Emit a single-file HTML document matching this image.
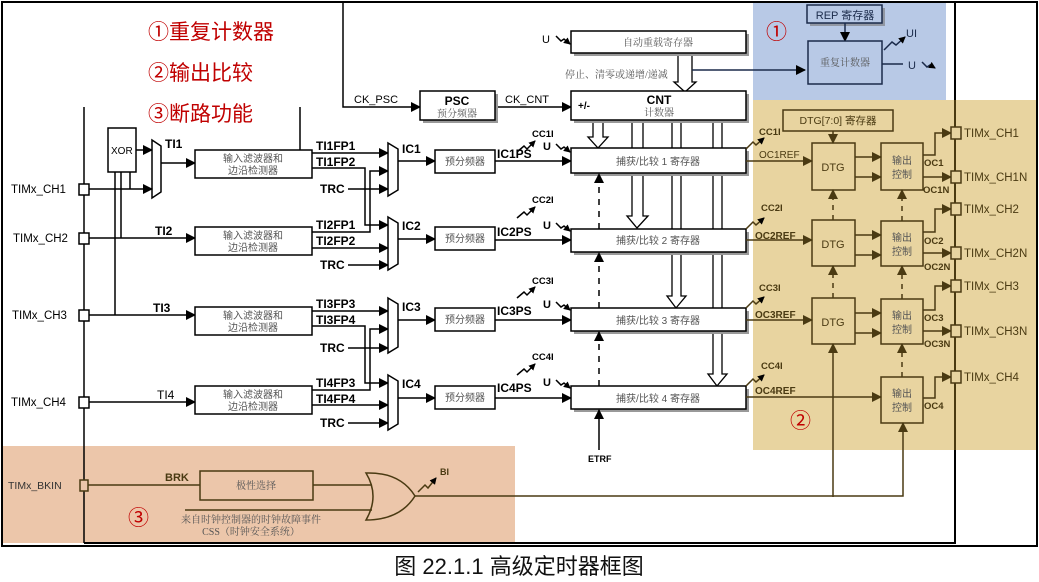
<!DOCTYPE html>
<html><head><meta charset="utf-8"><style>
html,body{margin:0;padding:0;background:#fff;}
svg{display:block;}
text{font-family:"Liberation Sans","Noto Sans CJK SC",sans-serif;}
.b{font-weight:bold;font-size:12px;}
.cj{font-family:"Liberation Serif","Noto Serif CJK SC",serif;font-size:10px;fill:#555;}
.red{font-family:"Liberation Sans","Noto Sans CJK SC",sans-serif;font-size:21px;fill:#c00000;}
.pin{font-size:11.5px;}
</style></head><body>
<svg width="1039" height="582" viewBox="0 0 1039 582" xmlns="http://www.w3.org/2000/svg">
<defs>
<marker id="a" markerWidth="10" markerHeight="10" refX="9" refY="5" orient="auto" markerUnits="userSpaceOnUse"><path d="M0,0 L10,5 L0,10z" fill="#000"/></marker>
<marker id="s" markerWidth="7" markerHeight="7" refX="6" refY="3.5" orient="auto" markerUnits="userSpaceOnUse"><path d="M0,0 L7,3.5 L0,7z" fill="#000"/></marker>
<marker id="br" markerWidth="10" markerHeight="10" refX="9" refY="5" orient="auto" markerUnits="userSpaceOnUse"><path d="M0,0 L10,5 L0,10z" fill="#4a3a12"/></marker>
</defs>
<rect x="753" y="2" width="193" height="98" fill="#b8c9e6"/>
<rect x="753" y="100" width="284" height="350" fill="#e8d4a0"/>
<rect x="2" y="446" width="513" height="97" fill="#ecc6aa"/>
<rect x="2" y="2" width="1035" height="544" fill="none" stroke="#000" stroke-width="2"/>
<line x1="955" y1="2" x2="955" y2="544" stroke="#000" stroke-width="2"/>
<line x1="84" y1="543" x2="955" y2="543" stroke="#000" stroke-width="2"/>
<line x1="955" y1="100" x2="955" y2="450" stroke="#4a3a12" stroke-width="2"/>

<text class="red" x="148" y="39">①重复计数器</text>
<text class="red" x="148" y="80">②输出比较</text>
<text class="red" x="148" y="121">③断路功能</text>
<text class="red" x="766" y="39" font-size="22">①</text>
<text class="red" x="790" y="428" font-size="22">②</text>
<text class="red" x="128" y="525" font-size="20">③</text>

<g stroke="#000" stroke-width="1.5" fill="none">
<line x1="84" y1="107" x2="84" y2="543"/>
<line x1="300" y1="107" x2="300" y2="150"/>
<polyline points="343,2 343,107 420,107" marker-end="url(#a)"/>
<line x1="495" y1="107" x2="571" y2="107" marker-end="url(#a)"/>
<rect x="108" y="128" width="28" height="44" fill="#fff"/>
<line x1="136" y1="150" x2="152" y2="150" marker-end="url(#a)"/>
<polygon points="152,140 161,146 161,192 152,198" fill="#fff"/>
<line x1="89" y1="189" x2="152" y2="189" marker-end="url(#a)"/>
<line x1="130" y1="172" x2="130" y2="189"/>
<line x1="121" y1="172" x2="121" y2="238"/>
<line x1="115" y1="172" x2="115" y2="315"/>
<line x1="161" y1="163" x2="195" y2="163" marker-end="url(#a)"/>
<line x1="89" y1="238" x2="195" y2="238" marker-end="url(#a)"/>
<line x1="89" y1="315" x2="195" y2="315" marker-end="url(#a)"/>
<line x1="89" y1="402" x2="195" y2="402" marker-end="url(#a)"/>
<rect x="195" y="150" width="117" height="28" fill="#fff"/>
<rect x="195" y="227" width="117" height="28" fill="#fff"/>
<rect x="195" y="307" width="117" height="28" fill="#fff"/>
<rect x="195" y="386" width="117" height="28" fill="#fff"/>
<line x1="312" y1="153" x2="388" y2="153" marker-end="url(#a)"/>
<polyline points="312,168 365,168 365,225 388,225" marker-end="url(#a)"/>
<polyline points="312,232 370,232 370,171 388,171" marker-end="url(#a)"/>
<line x1="312" y1="248" x2="388" y2="248" marker-end="url(#a)"/>
<line x1="348" y1="189" x2="388" y2="189" marker-end="url(#a)"/>
<line x1="348" y1="265" x2="388" y2="265" marker-end="url(#a)"/>
<line x1="312" y1="311" x2="388" y2="311" marker-end="url(#a)"/>
<polyline points="312,326 365,326 365,383 388,383" marker-end="url(#a)"/>
<polyline points="312,390 370,390 370,329 388,329" marker-end="url(#a)"/>
<line x1="312" y1="405" x2="388" y2="405" marker-end="url(#a)"/>
<line x1="348" y1="348" x2="388" y2="348" marker-end="url(#a)"/>
<line x1="348" y1="423" x2="388" y2="423" marker-end="url(#a)"/>
<polygon points="388,143 398,149 398,190 388,196" fill="#fff"/>
<polygon points="388,217 398,223 398,264 388,270" fill="#fff"/>
<polygon points="388,298 398,304 398,347 388,353" fill="#fff"/>
<polygon points="388,375 398,381 398,424 388,430" fill="#fff"/>
<line x1="398" y1="161" x2="435" y2="161" marker-end="url(#a)"/>
<line x1="398" y1="239" x2="435" y2="239" marker-end="url(#a)"/>
<line x1="398" y1="320" x2="435" y2="320" marker-end="url(#a)"/>
<line x1="398" y1="398" x2="435" y2="398" marker-end="url(#a)"/>
<rect x="435" y="150" width="60" height="23" fill="#fff"/>
<rect x="435" y="227" width="60" height="23" fill="#fff"/>
<rect x="435" y="308" width="60" height="23" fill="#fff"/>
<rect x="435" y="386" width="60" height="23" fill="#fff"/>
<line x1="495" y1="161" x2="571" y2="161" marker-end="url(#a)"/>
<line x1="495" y1="240" x2="571" y2="240" marker-end="url(#a)"/>
<line x1="495" y1="320" x2="571" y2="320" marker-end="url(#a)"/>
<line x1="495" y1="398" x2="571" y2="398" marker-end="url(#a)"/>
<polyline points="517,152 524,146 527,149 535,141" marker-end="url(#s)"/>
<polyline points="517,218 524,212 527,215 535,207" marker-end="url(#s)"/>
<polyline points="517,298 524,292 527,295 535,287" marker-end="url(#s)"/>
<polyline points="517,375 524,369 527,372 535,364" marker-end="url(#s)"/>
<polyline points="556,144 561,149 564,147 570,152" marker-end="url(#s)"/>
<polyline points="556,223 561,228 564,226 570,231" marker-end="url(#s)"/>
<polyline points="556,302 561,307 564,305 570,310" marker-end="url(#s)"/>
<polyline points="556,380 561,385 564,383 570,388" marker-end="url(#s)"/>
<polyline points="556,36 561,41 564,39 570,44" marker-end="url(#s)"/>
</g>
<g fill="#fff" stroke="#000" stroke-width="1.5">
<rect x="79" y="184" width="10" height="11"/><rect x="79" y="233" width="10" height="11"/>
<rect x="79" y="310" width="10" height="11"/><rect x="79" y="397" width="10" height="11"/>
</g>
<g class="pin">
<text x="11" y="193">TIMx_CH1</text><text x="13" y="242">TIMx_CH2</text>
<text x="12" y="319">TIMx_CH3</text><text x="11" y="406">TIMx_CH4</text>
</g>
<text x="111" y="154" font-size="10">XOR</text>
<g class="b">
<text x="165" y="148">TI1</text><text x="155" y="235">TI2</text><text x="153" y="312">TI3</text>
<text x="157" y="399" font-weight="normal">TI4</text>
<text x="316" y="150">TI1FP1</text><text x="316" y="166">TI1FP2</text><text x="320" y="193">TRC</text>
<text x="316" y="229">TI2FP1</text><text x="316" y="245">TI2FP2</text><text x="320" y="269">TRC</text>
<text x="316" y="308">TI3FP3</text><text x="316" y="324">TI3FP4</text><text x="320" y="352">TRC</text>
<text x="316" y="387">TI4FP3</text><text x="316" y="403">TI4FP4</text><text x="320" y="427">TRC</text>
<text x="402" y="153">IC1</text><text x="402" y="230">IC2</text><text x="402" y="311">IC3</text><text x="402" y="388">IC4</text>
<text x="497" y="158">IC1PS</text><text x="497" y="236">IC2PS</text><text x="497" y="315">IC3PS</text><text x="497" y="392">IC4PS</text>
</g>
<g font-weight="bold" font-size="9.5">
<text x="532" y="137">CC1I</text><text x="532" y="203">CC2I</text><text x="532" y="284">CC3I</text><text x="532" y="360">CC4I</text>
</g>
<g font-size="11" font-weight="bold"><text x="543" y="150">U</text><text x="543" y="229">U</text><text x="543" y="308">U</text><text x="543" y="386">U</text></g>
<text x="542" y="43" font-size="11">U</text>
<g class="cj" text-anchor="middle">
<text x="253" y="162">输入滤波器和</text><text x="253" y="174">边沿检测器</text>
<text x="253" y="239">输入滤波器和</text><text x="253" y="251">边沿检测器</text>
<text x="253" y="319">输入滤波器和</text><text x="253" y="331">边沿检测器</text>
<text x="253" y="398">输入滤波器和</text><text x="253" y="410">边沿检测器</text>
<text x="465" y="165">预分频器</text><text x="465" y="242">预分频器</text><text x="465" y="323">预分频器</text><text x="465" y="401">预分频器</text>
</g>
<rect x="423" y="94" width="75" height="29" fill="#999"/>
<rect x="420" y="91" width="75" height="29" fill="#fff" stroke="#000" stroke-width="1.5"/>
<text x="457" y="105" text-anchor="middle" class="b" font-size="13">PSC</text>
<text x="457" y="117" text-anchor="middle" class="cj">预分频器</text>
<text x="354" y="103" font-size="11">CK_PSC</text>
<text x="505" y="103" font-size="11">CK_CNT</text>

<g stroke="#000" stroke-width="1.3" fill="#fff">
<polygon points="678,53 678,82 674,82 685,92 696,82 692,82 692,53"/>
<polygon points="593,120 593,137 588,137 598,148 608,137 603,137 603,120"/>
<polygon points="632,120 632,216 627,216 637,228 648,216 643,216 643,120"/>
<polygon points="672,120 672,296 667,296 676,308 686,296 681,296 681,120"/>
<polygon points="713,120 713,374 708,374 717,386 727,374 722,374 722,120"/>
</g>
<rect x="574" y="34" width="175" height="22" fill="#999"/>
<rect x="571" y="31" width="175" height="22" fill="#fff" stroke="#000" stroke-width="1.5"/>
<text x="658" y="46" text-anchor="middle" class="cj">自动重载寄存器</text>
<text x="565" y="78" class="cj" fill="#333">停止、清零或递增/递减</text>
<rect x="574" y="94" width="175" height="29" fill="#999"/>
<rect x="571" y="91" width="175" height="29" fill="#fff" stroke="#000" stroke-width="1.5"/>
<text x="578" y="109" font-size="10" font-weight="bold">+/-</text>
<text x="659" y="104" text-anchor="middle" class="b" font-size="13">CNT</text>
<text x="659" y="116" text-anchor="middle" class="cj">计数器</text>
<line x1="692" y1="70" x2="805" y2="70" stroke="#1a2a4a" stroke-width="1.5" marker-end="url(#a)"/>
<g>
<rect x="574" y="151" width="175" height="25" fill="#999"/>
<rect x="571" y="148" width="175" height="25" fill="#fff" stroke="#000" stroke-width="1.5"/>
<rect x="574" y="232" width="175" height="23" fill="#999"/>
<rect x="571" y="229" width="175" height="23" fill="#fff" stroke="#000" stroke-width="1.5"/>
<rect x="574" y="311" width="175" height="23" fill="#999"/>
<rect x="571" y="308" width="175" height="23" fill="#fff" stroke="#000" stroke-width="1.5"/>
<rect x="574" y="389" width="175" height="23" fill="#999"/>
<rect x="571" y="386" width="175" height="23" fill="#fff" stroke="#000" stroke-width="1.5"/>
</g>
<g class="cj" text-anchor="middle" font-size="10.5">
<text x="658" y="165">捕获/比较 1 寄存器</text><text x="658" y="244">捕获/比较 2 寄存器</text>
<text x="658" y="324">捕获/比较 3 寄存器</text><text x="658" y="402">捕获/比较 4 寄存器</text>
</g>
<g stroke="#000" stroke-width="1.5" fill="none">
<line x1="599" y1="229" x2="599" y2="174" stroke-dasharray="6,6" marker-end="url(#a)"/>
<line x1="599" y1="308" x2="599" y2="253" stroke-dasharray="6,6" marker-end="url(#a)"/>
<line x1="599" y1="386" x2="599" y2="332" stroke-dasharray="6,6" marker-end="url(#a)"/>
<line x1="599" y1="450" x2="599" y2="410" marker-end="url(#a)"/>
</g>
<text x="588" y="462" font-size="9" font-weight="bold">ETRF</text>

<rect x="810" y="8" width="75" height="18" fill="#777" opacity="0.6"/>
<rect x="807" y="5" width="75" height="18" fill="#b8c9e6" stroke="#1a2a4a" stroke-width="1.5"/>
<text x="845" y="19" text-anchor="middle" font-size="11" fill="#1a2a4a">REP 寄存器</text>
<line x1="845" y1="23" x2="845" y2="41" stroke="#1a2a4a" stroke-width="1.5" marker-end="url(#a)"/>
<rect x="808" y="41" width="74" height="43" fill="#b8c9e6" stroke="#1a2a4a" stroke-width="1.5"/>
<text x="845" y="66" text-anchor="middle" class="cj" fill="#333">重复计数器</text>
<g stroke="#1a2a4a" stroke-width="1.5" fill="none">
<polyline points="884,50 892,42 896,45 905,37" marker-end="url(#s)"/>
<line x1="882" y1="64" x2="903" y2="64"/>
<polyline points="922,62 927,67 930,65 935,68" marker-end="url(#s)"/>
</g>
<text x="906" y="37" font-size="11" fill="#1a2a4a">UI</text>
<text x="908" y="69" font-size="11" fill="#1a2a4a">U</text>

<g stroke="#4a3a12" stroke-width="1.5" fill="none">
<rect x="783" y="110" width="110" height="21"/>
<line x1="833" y1="131" x2="833" y2="143" marker-end="url(#br)"/>
<rect x="812" y="143" width="43" height="47"/>
<rect x="812" y="220" width="43" height="46"/>
<rect x="812" y="298" width="43" height="46"/>
<rect x="881" y="143" width="42" height="47"/>
<rect x="881" y="221" width="42" height="45"/>
<rect x="881" y="299" width="42" height="45"/>
<rect x="881" y="377" width="42" height="46"/>
<line x1="746" y1="161" x2="812" y2="161" marker-end="url(#br)"/>
<line x1="746" y1="240" x2="812" y2="240" marker-end="url(#br)"/>
<line x1="746" y1="320" x2="812" y2="320" marker-end="url(#br)"/>
<line x1="746" y1="397" x2="881" y2="397" marker-end="url(#br)"/>
<line x1="855" y1="157" x2="881" y2="157" marker-end="url(#br)"/>
<line x1="855" y1="177" x2="881" y2="177" marker-end="url(#br)"/>
<line x1="855" y1="235" x2="881" y2="235" marker-end="url(#br)"/>
<line x1="855" y1="255" x2="881" y2="255" marker-end="url(#br)"/>
<line x1="855" y1="313" x2="881" y2="313" marker-end="url(#br)"/>
<line x1="855" y1="333" x2="881" y2="333" marker-end="url(#br)"/>
<polyline points="923,155 935,155 935,133 951,133" marker-end="url(#br)"/>
<line x1="923" y1="177" x2="951" y2="177" marker-end="url(#br)"/>
<polyline points="923,232 935,232 935,209 951,209" marker-end="url(#br)"/>
<line x1="923" y1="253" x2="951" y2="253" marker-end="url(#br)"/>
<polyline points="923,310 935,310 935,286 951,286" marker-end="url(#br)"/>
<line x1="923" y1="331" x2="951" y2="331" marker-end="url(#br)"/>
<polyline points="923,398 935,398 935,377 951,377" marker-end="url(#br)"/>
<line x1="833" y1="220" x2="833" y2="190" stroke-dasharray="5,5" marker-end="url(#br)"/>
<line x1="833" y1="298" x2="833" y2="266" stroke-dasharray="5,5" marker-end="url(#br)"/>
<line x1="902" y1="221" x2="902" y2="190" stroke-dasharray="5,5" marker-end="url(#br)"/>
<line x1="902" y1="299" x2="902" y2="266" stroke-dasharray="5,5" marker-end="url(#br)"/>
<line x1="902" y1="377" x2="902" y2="344" stroke-dasharray="5,5" marker-end="url(#br)"/>
<line x1="833" y1="497" x2="833" y2="344" marker-end="url(#br)"/>
<polyline points="415,496 903,496 903,423" marker-end="url(#br)"/>
<polyline points="746,149 753,142 756,145 764,138" marker-end="url(#s)"/>
<polyline points="746,229 753,222 756,225 764,218" marker-end="url(#s)"/>
<polyline points="746,308 753,301 756,304 764,297" marker-end="url(#s)"/>
<polyline points="746,386 753,379 756,382 764,375" marker-end="url(#s)"/>
</g>
<g fill="#e8d4a0" stroke="#4a3a12" stroke-width="1.5">
<rect x="951" y="127" width="10" height="12"/><rect x="951" y="171" width="10" height="12"/>
<rect x="951" y="203" width="10" height="12"/><rect x="951" y="247" width="10" height="12"/>
<rect x="951" y="280" width="10" height="12"/><rect x="951" y="325" width="10" height="12"/>
<rect x="951" y="371" width="10" height="12"/>
</g>
<g fill="#4a3a12">
<text x="838" y="124" text-anchor="middle" font-size="10.5">DTG[7:0] 寄存器</text>
<text x="833" y="171" text-anchor="middle" font-size="11">DTG</text>
<text x="833" y="248" text-anchor="middle" font-size="11">DTG</text>
<text x="833" y="326" text-anchor="middle" font-size="11">DTG</text>
<g class="cj" fill="#8a7a55" font-size="11" text-anchor="middle">
<text x="902" y="164">输出</text><text x="902" y="178">控制</text>
<text x="902" y="241">输出</text><text x="902" y="255">控制</text>
<text x="902" y="319">输出</text><text x="902" y="333">控制</text>
<text x="902" y="397">输出</text><text x="902" y="411">控制</text>
</g>
<g font-weight="bold" font-size="9.5">
<text x="759" y="135">CC1I</text><text x="761" y="211">CC2I</text><text x="759" y="291">CC3I</text><text x="761" y="369">CC4I</text>
<text x="924" y="166">OC1</text><text x="923" y="193">OC1N</text>
<text x="924" y="244">OC2</text><text x="924" y="270">OC2N</text>
<text x="924" y="321">OC3</text><text x="924" y="347">OC3N</text>
<text x="924" y="409">OC4</text>
<text x="755" y="239" font-size="10">OC2REF</text><text x="755" y="318" font-size="10">OC3REF</text><text x="755" y="394" font-size="10">OC4REF</text>
</g>
<text x="759" y="158" font-size="10">OC1REF</text>
<g class="pin">
<text x="964" y="137">TIMx_CH1</text><text x="964" y="181">TIMx_CH1N</text>
<text x="964" y="213">TIMx_CH2</text><text x="964" y="257">TIMx_CH2N</text>
<text x="964" y="290">TIMx_CH3</text><text x="964" y="335">TIMx_CH3N</text>
<text x="964" y="381">TIMx_CH4</text>
</g>
</g>

<g stroke="#4a3a12" stroke-width="1.5" fill="none">
<line x1="88" y1="485" x2="200" y2="485"/>
<rect x="200" y="471" width="113" height="29"/>
<line x1="313" y1="485" x2="372" y2="485"/>
<line x1="185" y1="510" x2="372" y2="510"/>
<path d="M366,473 Q400,472 415,496 Q400,520 366,520 Q380,496 366,473z"/>
<polyline points="418,492 425,485 428,488 436,478" marker-end="url(#s)"/>
</g>
<rect x="80" y="480" width="8" height="11" fill="#ecc6aa" stroke="#4a3a12" stroke-width="1.5"/>
<text x="8" y="489" font-size="10.5" fill="#333">TIMx_BKIN</text>
<text x="165" y="481" font-size="11" font-weight="bold" fill="#4a3a12">BRK</text>
<text x="256" y="489" text-anchor="middle" class="cj" fill="#6a5a40">极性选择</text>
<text x="440" y="475" font-size="9" font-weight="bold" fill="#4a3a12">BI</text>
<text x="251" y="523" text-anchor="middle" class="cj" fill="#6a5a40">来自时钟控制器的时钟故障事件</text>
<text x="251" y="535" text-anchor="middle" class="cj" fill="#6a5a40">CSS（时钟安全系统）</text>

<text x="519" y="574" text-anchor="middle" font-family="'Liberation Serif','Noto Serif CJK SC',serif" font-size="22" fill="#111">图  22.1.1 高级定时器框图</text>
</svg>
</body></html>
